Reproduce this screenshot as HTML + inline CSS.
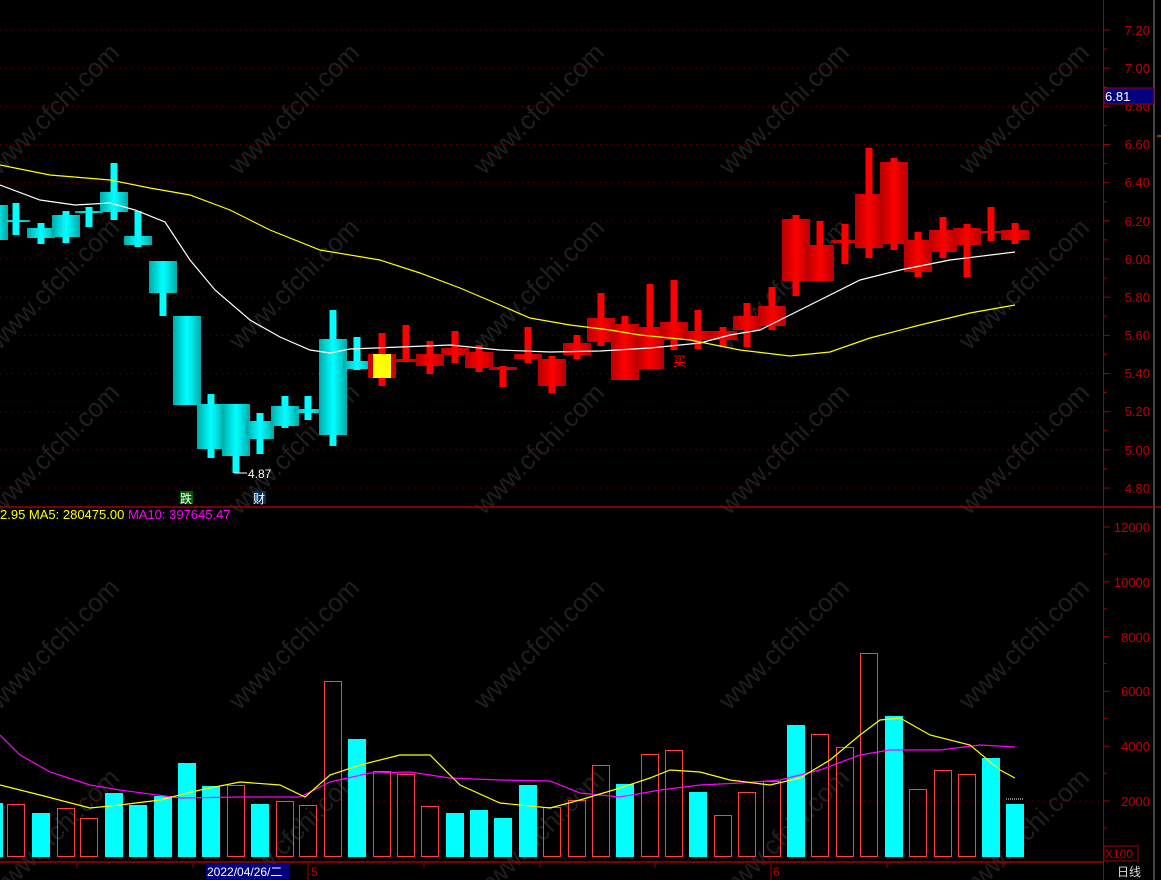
<!DOCTYPE html>
<html><head><meta charset="utf-8"><style>
html,body{margin:0;padding:0;background:#000;}
svg{display:block;font-family:"Liberation Sans","Noto Sans CJK SC",sans-serif;}
</style></head><body>
<svg id="s" width="1161" height="880" viewBox="0 0 1161 880" xmlns="http://www.w3.org/2000/svg">
<defs>
<linearGradient id="gc" x1="0" x2="1" y1="0" y2="0">
<stop offset="0" stop-color="#00a8a8"/><stop offset="0.3" stop-color="#00e0e0"/><stop offset="0.5" stop-color="#00ffff"/><stop offset="0.7" stop-color="#00e0e0"/><stop offset="1" stop-color="#00a8a8"/></linearGradient>
<linearGradient id="gr" x1="0" x2="1" y1="0" y2="0">
<stop offset="0" stop-color="#b80000"/><stop offset="0.3" stop-color="#e00000"/><stop offset="0.5" stop-color="#ff0000"/><stop offset="0.7" stop-color="#e00000"/><stop offset="1" stop-color="#b80000"/></linearGradient>
</defs>
<rect width="1161" height="880" fill="#000"/>
<g id="wm" fill="#1f1f1f" font-size="26"></g>
<g id="grid" stroke="#7a0000" stroke-dasharray="1,5" stroke-width="1"></g>
<g id="cand"></g>
<g id="ma" fill="none" stroke-width="1.2"></g>
<g id="vol"></g>
<line x1="0" y1="507" x2="1161" y2="507" stroke="#a00000" stroke-width="1.5"/>
<line x1="0" y1="862" x2="1104" y2="862" stroke="#a00000" stroke-width="1.5"/>
<line x1="1103.5" y1="0" x2="1103.5" y2="880" stroke="#a00000" stroke-width="1"/>
<line x1="1154" y1="0" x2="1154" y2="880" stroke="#444" stroke-width="2"/>
<g id="ticks" stroke="#a00000"></g>
<g fill="#c00000" font-size="13" text-anchor="end">
<text x="1150" y="35">7.20</text><text x="1150" y="73">7.00</text>
<text x="1150" y="111">6.80</text><text x="1150" y="149">6.60</text>
<text x="1150" y="187">6.40</text><text x="1150" y="226">6.20</text>
<text x="1150" y="264">6.00</text><text x="1150" y="302">5.80</text>
<text x="1150" y="340">5.60</text><text x="1150" y="378">5.40</text>
<text x="1150" y="416">5.20</text><text x="1150" y="455">5.00</text>
<text x="1150" y="493">4.80</text>
<text x="1150" y="532">12000</text><text x="1150" y="587">10000</text>
<text x="1150" y="642">8000</text><text x="1150" y="696">6000</text>
<text x="1150" y="751">4000</text><text x="1150" y="806">2000</text>
</g>
<rect x="1104" y="88" width="50" height="16" fill="#000080" stroke="#a00000"/>
<text x="1105" y="101" fill="#fff" font-size="13">6.81</text>
<line x1="1157" y1="136" x2="1161" y2="136" stroke="#ff8000"/>
<rect x="1104" y="846" width="34" height="15" fill="#000" stroke="#a00000"/>
<text x="1105" y="858" fill="#c00000" font-size="12">X100</text>
<text x="1117" y="876" fill="#ddd" font-size="12">日线</text>
<rect x="206" y="864" width="84" height="15" fill="#000080"/>
<text x="207" y="876" fill="#fff" font-size="12">2022/04/26/二</text>
<line x1="308" y1="863" x2="308" y2="880" stroke="#a00000"/>
<text x="311" y="876" fill="#c00000" font-size="12">5</text>
<line x1="771" y1="863" x2="771" y2="880" stroke="#a00000"/>
<text x="773" y="876" fill="#c00000" font-size="12">6</text>
<line x1="77" y1="863" x2="77" y2="868" stroke="#a00000"/>
<line x1="193" y1="863" x2="193" y2="868" stroke="#a00000"/>
<line x1="424" y1="863" x2="424" y2="868" stroke="#a00000"/>
<line x1="540" y1="863" x2="540" y2="868" stroke="#a00000"/>
<line x1="655" y1="863" x2="655" y2="868" stroke="#a00000"/>
<line x1="887" y1="863" x2="887" y2="868" stroke="#a00000"/>
<line x1="1003" y1="863" x2="1003" y2="868" stroke="#a00000"/>
<text x="0" y="519" font-size="13" fill="#ffff00">2.95 MA5: 280475.00 <tspan fill="#ff00ff">MA10: 397645.47</tspan></text>
<line x1="234" y1="473" x2="247" y2="473" stroke="#fff"/>
<text x="248" y="478" fill="#fff" font-size="12">4.87</text>
<rect x="180" y="491" width="13" height="13" fill="#006000"/>
<text x="180" y="503" fill="#fff" font-size="12">跌</text>
<rect x="253" y="491" width="13" height="13" fill="#003060"/>
<text x="253" y="503" fill="#fff" font-size="12">财</text>
<text x="673" y="366" fill="#ff0000" font-size="13">买</text>
</svg>
<script>
var NS="http://www.w3.org/2000/svg";
function el(p,t,a){var e=document.createElementNS(NS,t);for(var k in a)e.setAttribute(k,a[k]);document.getElementById(p).appendChild(e);return e;}
for(var i=0;i<13;i++){var y=30+i*38.17;el('grid','line',{x1:0,x2:1100,y1:y,y2:y});}
el('grid','line',{x1:0,x2:1100,y1:801,y2:801});
for(var i=0;i<13;i++){var y=30+i*38.17;el('ticks','line',{x1:1103,x2:1110,y1:y,y2:y});el('ticks','line',{x1:1103,x2:1107,y1:y+19,y2:y+19});}
for(var i=0;i<6;i++){var y=527+i*54.8;el('ticks','line',{x1:1103,x2:1110,y1:y,y2:y});el('ticks','line',{x1:1103,x2:1107,y1:y+27,y2:y+27});}
var wx=[60,300,545,790,1030],wy=[115,290,455,650,840];
wx.forEach(function(x){wy.forEach(function(y){var t=el('wm','text',{x:x,y:y,'text-anchor':'middle',transform:'rotate(-45 '+x+' '+y+')'});t.textContent='www.cfchi.com';});});
var C=[[-6,205,240,205,240,'c'],[16,220,222,203,235,'c'],[41,228,238,223,244,'c'],[66,215,237,211,243,'c'],[89,211,213,207,227,'c'],[114,192,212,163,220,'c'],[138,236,245,211,247,'c'],[163,261,293,261,316,'c'],[187,316,405,316,405,'c'],[211,404,449,394,458,'c'],[236,404,456,404,473,'c'],[260,421,439,413,454,'c'],[285,406,426,396,428,'c'],[308,409,413,396,420,'c'],[333,339,435,310,446,'c'],[357,361,369,337,370,'c'],
[382,354,378,333,386,'y'],[406,359,362,325,362,'r'],[430,354,366,341,374,'r'],[455,348,355,331,363,'r'],[479,352,368,345,372,'r'],[503,367,370,366,387,'r'],[528,354,359,327,363,'r'],[552,359,386,356,393,'r'],[577,343,355,335,359,'r'],[601,318,342,293,346,'r'],[625,324,380,316,380,'r'],[650,327,369,284,369,'r'],[674,322,340,280,350,'r'],[698,331,340,310,349,'r'],[723,331,340,327,347,'r'],[747,316,330,303,347,'r'],[772,306,326,287,330,'r'],[796,219,281,215,296,'r'],[820,245,281,221,281,'r'],[845,240,243,224,264,'r'],[869,194,248,148,258,'r'],[894,162,244,158,250,'r'],[918,240,272,232,277,'r'],[943,230,252,217,258,'r'],[967,228,245,224,277,'r'],[991,231,233,207,241,'r'],[1015,230,240,223,244,'r']];
C.forEach(function(c){var x=c[0],col=c[5];
 var wc=col=='c'?'#00ffff':'#ff0000';
 el('cand','rect',{x:x-3.5,y:c[3],width:7,height:c[4]-c[3],fill:wc});
 var h=Math.max(c[2]-c[1],2);
 if(col=='y'){el('cand','rect',{x:x-14,y:c[1],width:28,height:h,fill:'#d00000'});el('cand','rect',{x:x-9,y:c[1],width:18,height:h,fill:'#ffff00'});}
 else el('cand','rect',{x:x-14,y:c[1],width:28,height:h,fill:col=='c'?'url(#gc)':'url(#gr)'});
});
function pl(g,pts,col){el(g,'polyline',{points:pts.map(function(p){return p.join(',')}).join(' '),stroke:col,fill:'none','stroke-width':1.2});}
pl('ma',[[0,185],[40,200],[75,205],[110,203],[135,210],[165,222],[190,260],[215,290],[250,320],[280,337],[310,350],[330,353],[350,349],[400,347],[450,345],[500,350],[550,352],[600,351],[650,348],[700,343],[730,335],[760,330],[790,315],[820,300],[860,280],[900,270],[950,260],[1015,252]],'#ffffff');
pl('ma',[[0,165],[50,175],[110,180],[150,188],[190,195],[230,210],[270,230],[320,250],[380,260],[420,273],[460,288],[500,305],[530,318],[570,325],[610,330],[640,335],[690,340],[740,350],[790,356],[830,352],[870,338],[920,325],[970,313],[1015,305]],'#ffff00');
var V=[[-6,803,'c'],[16,804,'r'],[41,813,'c'],[66,808,'r'],[89,818,'r'],[114,793,'c'],[138,805,'c'],[163,796,'c'],[187,763,'c'],[211,786,'c'],[236,785,'r'],[260,804,'c'],[285,801,'r'],[308,805,'r'],[333,681,'r'],[357,739,'c'],[382,771,'r'],[406,774,'r'],[430,806,'r'],[455,813,'c'],[479,810,'c'],[503,818,'c'],[528,785,'c'],[552,807,'r'],[577,800,'r'],[601,765,'r'],[625,784,'c'],[650,754,'r'],[674,750,'r'],[698,792,'c'],[723,815,'r'],[747,792,'r'],[772,781,'r'],[796,725,'c'],[820,734,'r'],[845,747,'r'],[869,653,'r'],[894,716,'c'],[918,789,'r'],[943,770,'r'],[967,774,'r'],[991,758,'c'],[1015,804,'c']];
V.forEach(function(v){var x=v[0];
 if(v[2]=='c')el('vol','rect',{x:x-9,y:v[1],width:18,height:857-v[1],fill:'#00ffff'});
 else el('vol','rect',{x:x-8.5,y:v[1]+0.5,width:17,height:856-v[1],fill:'none',stroke:'#ff4040','stroke-width':1});
});
el('vol','line',{x1:1006,x2:1024,y1:799,y2:799,stroke:'#fff','stroke-dasharray':'1,1'});
pl('vol',[[0,735],[20,755],[50,772],[90,785],[120,790],[180,798],[240,797],[300,797],[330,782],[370,773],[410,772],[450,778],[500,780],[550,781],[580,793],[620,797],[660,790],[700,785],[740,783],[780,780],[820,770],[860,755],[890,750],[940,750],[980,745],[1015,747]],'#ff00ff');
pl('vol',[[0,785],[40,795],[90,808],[120,805],[160,800],[200,790],[240,782],[280,785],[305,797],[330,775],[360,765],[400,755],[430,755],[460,785],[500,803],[550,808],[580,800],[620,788],[650,778],[670,770],[700,772],[730,780],[770,785],[800,778],[830,760],[860,735],[880,720],[900,718],[930,735],[970,745],[1000,770],[1015,778]],'#ffff00');
</script>
</body></html>
